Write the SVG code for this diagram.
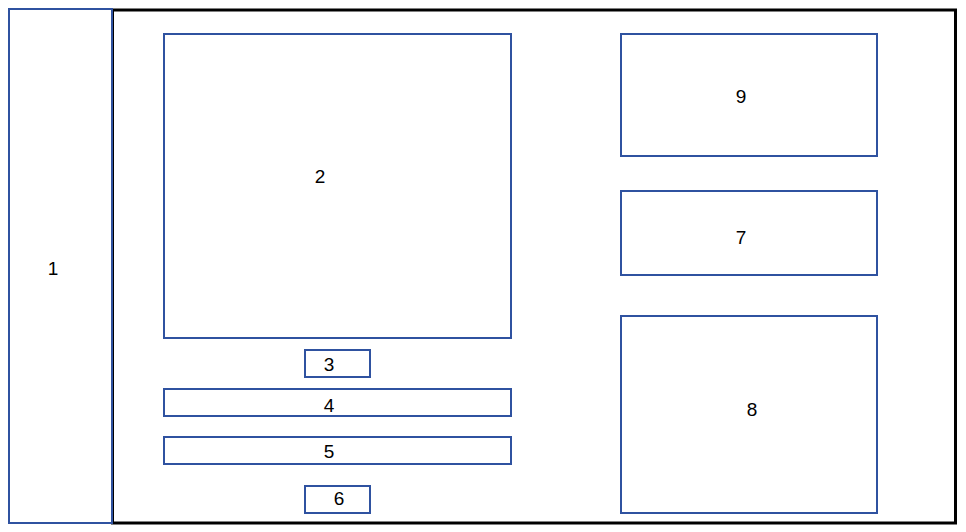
<svg xmlns="http://www.w3.org/2000/svg" width="966" height="532" viewBox="0 0 966 532">
<style>
.b{fill:none;stroke:#2F52A0;stroke-width:2}
.k{fill:none;stroke:#000;stroke-width:3}
text{font-family:"Liberation Sans",Arial,sans-serif;font-size:19px;fill:#000;text-anchor:middle;dominant-baseline:central}
</style>
<rect width="966" height="532" fill="#fff"/>
<g id="outer"><rect class="k" x="112.5" y="10" width="843" height="513"/></g>
<g id="n1"><rect class="b" x="9" y="9" width="103" height="514"/><text x="53" y="268">1</text></g>
<g id="n2"><rect class="b" x="164" y="34" width="347" height="304"/><text x="320" y="176">2</text></g>
<g id="n3"><rect class="b" x="305" y="350" width="65" height="27"/><text x="329" y="364">3</text></g>
<g id="n4"><rect class="b" x="164" y="389" width="347" height="27"/><text x="329" y="405">4</text></g>
<g id="n5"><rect class="b" x="164" y="437" width="347" height="27"/><text x="329" y="451">5</text></g>
<g id="n6"><rect class="b" x="305" y="486" width="65" height="27"/><text x="339" y="498">6</text></g>
<g id="n9"><rect class="b" x="621" y="34" width="256" height="122"/><text x="741" y="96">9</text></g>
<g id="n7"><rect class="b" x="621" y="191" width="256" height="84"/><text x="741" y="237">7</text></g>
<g id="n8"><rect class="b" x="621" y="316" width="256" height="197"/><text x="752" y="409">8</text></g>
<g id="connectors"></g>
</svg>
